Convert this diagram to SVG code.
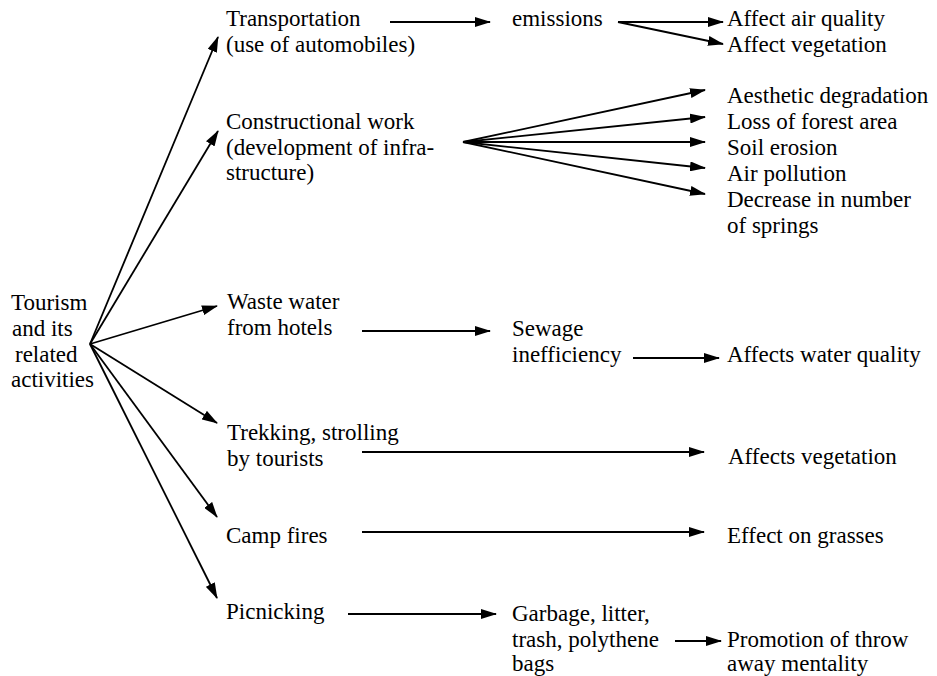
<svg xmlns="http://www.w3.org/2000/svg" width="937" height="676" viewBox="0 0 937 676">
  <style>
    .t { font-family: 'Liberation Serif', 'Times New Roman', Times, 'Nimbus Roman', 'Nimbus Roman No9 L', 'Noto Serif', FreeSerif, Tinos, 'DejaVu Serif', serif; font-size: 23px; fill: #000; }
    .edge { stroke: #000; stroke-width: 1.8; fill: none; marker-end: url(#head); }
  </style>
  <defs>
    <marker id="head" viewBox="0 0 16 10" refX="15" refY="5" markerWidth="16" markerHeight="10" markerUnits="userSpaceOnUse" orient="auto">
      <path d="M0,0 L16,5 L0,10 z" fill="#000"/>
    </marker>
  </defs>
  <rect width="937" height="676" fill="#fff"/>

  <!-- connectors -->
  <g id="connectors">
    <!-- from the root node -->
    <line class="edge" x1="90" y1="344" x2="218" y2="37"/>
    <line class="edge" x1="90" y1="344" x2="218" y2="131"/>
    <line class="edge" x1="90" y1="344" x2="217" y2="306"/>
    <line class="edge" x1="90" y1="344" x2="217" y2="423"/>
    <line class="edge" x1="90" y1="344" x2="217" y2="517"/>
    <line class="edge" x1="90" y1="344" x2="217" y2="598"/>
    <!-- transportation chain -->
    <line class="edge" x1="390" y1="22" x2="490" y2="22"/>
    <line class="edge" x1="618" y1="22" x2="723" y2="22"/>
    <line class="edge" x1="618" y1="22" x2="723" y2="44"/>
    <!-- construction fan -->
    <line class="edge" x1="463" y1="142" x2="705" y2="90"/>
    <line class="edge" x1="463" y1="142" x2="705" y2="117"/>
    <line class="edge" x1="463" y1="142" x2="705" y2="142"/>
    <line class="edge" x1="463" y1="142" x2="705" y2="168"/>
    <line class="edge" x1="463" y1="142" x2="705" y2="194"/>
    <!-- waste water chain -->
    <line class="edge" x1="362" y1="331" x2="490" y2="331"/>
    <line class="edge" x1="633" y1="358" x2="719" y2="358"/>
    <!-- trekking, camp fires -->
    <line class="edge" x1="362" y1="452" x2="704" y2="452"/>
    <line class="edge" x1="362" y1="532" x2="704" y2="532"/>
    <!-- picnicking chain -->
    <line class="edge" x1="348" y1="614" x2="496" y2="614"/>
    <line class="edge" x1="675" y1="641" x2="721" y2="641"/>
  </g>

  <g id="root" class="t">
    <text x="11" y="310">Tourism</text>
    <text x="12" y="336">and its</text>
    <text x="15" y="362">related</text>
    <text x="11" y="387">activities</text>
  </g>

  <g id="transportation" class="t">
    <text x="226" y="26">Transportation</text>
    <text x="226" y="52">(use of automobiles)</text>
  </g>
  <g id="emissions" class="t">
    <text x="512" y="26">emissions</text>
  </g>
  <g id="air-quality" class="t">
    <text x="727" y="26">Affect air quality</text>
  </g>
  <g id="vegetation-1" class="t">
    <text x="727" y="52">Affect vegetation</text>
  </g>

  <g id="construction" class="t">
    <text x="226" y="129">Constructional work</text>
    <text x="226" y="155">(development of infra-</text>
    <text x="226" y="180">structure)</text>
  </g>
  <g id="aesthetic" class="t">
    <text x="727" y="103">Aesthetic degradation</text>
  </g>
  <g id="forest" class="t">
    <text x="727" y="129">Loss of forest area</text>
  </g>
  <g id="soil" class="t">
    <text x="727" y="155">Soil erosion</text>
  </g>
  <g id="air-pollution" class="t">
    <text x="727" y="181">Air pollution</text>
  </g>
  <g id="springs" class="t">
    <text x="727" y="207">Decrease in number</text>
    <text x="727" y="233">of springs</text>
  </g>

  <g id="waste-water" class="t">
    <text x="227" y="309">Waste water</text>
    <text x="227" y="335">from hotels</text>
  </g>
  <g id="sewage" class="t">
    <text x="512" y="336">Sewage</text>
    <text x="512" y="362">inefficiency</text>
  </g>
  <g id="water-quality" class="t">
    <text x="727" y="362">Affects water quality</text>
  </g>

  <g id="trekking" class="t">
    <text x="227" y="440">Trekking, strolling</text>
    <text x="227" y="466">by tourists</text>
  </g>
  <g id="vegetation-2" class="t">
    <text x="728" y="464">Affects vegetation</text>
  </g>

  <g id="camp-fires" class="t">
    <text x="226" y="543">Camp fires</text>
  </g>
  <g id="grasses" class="t">
    <text x="727" y="543">Effect on grasses</text>
  </g>

  <g id="picnicking" class="t">
    <text x="226" y="619">Picnicking</text>
  </g>
  <g id="garbage" class="t">
    <text x="512" y="621">Garbage, litter,</text>
    <text x="512" y="647">trash, polythene</text>
    <text x="512" y="671">bags</text>
  </g>
  <g id="throw-away" class="t">
    <text x="727" y="647">Promotion of throw</text>
    <text x="727" y="671">away mentality</text>
  </g>
</svg>
